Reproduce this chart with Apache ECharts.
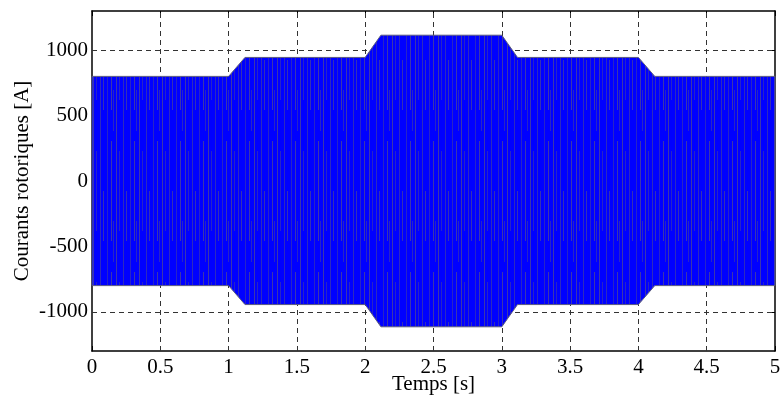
<!DOCTYPE html>
<html>
<head>
<meta charset="utf-8">
<script src="https://cdn.jsdelivr.net/npm/echarts@6/dist/echarts.min.js"></script>
<style>
html,body{margin:0;padding:0;background:#fff;}
#chart{width:781px;height:398px;}
</style>
</head>
<body>
<div id="chart"></div>
<script>
// Envelope of the rotor currents (time in s, peak amplitude in A)
var envTimes = [0, 1, 1.12, 2, 2.115, 3, 3.115, 4, 4.12, 5];
var envAmps  = [800, 800, 945, 945, 1115, 1115, 945, 945, 800, 800];
// Axis ticks
var xTicks = [0, 0.5, 1, 1.5, 2, 2.5, 3, 3.5, 4, 4.5, 5];
var yTicks = [-1000, -500, 0, 500, 1000];

var envData = envTimes.map(function (t, i) { return [t, envAmps[i]]; });

// Fill texture (style only): thin olive/grey vertical streaks over blue
var pat = document.createElement('canvas');
pat.width = 23; pat.height = 131;
(function () {
  var c = pat.getContext('2d');
  c.fillStyle = '#0000ff';
  c.fillRect(0, 0, pat.width, pat.height);
  var streaks = [[1, 0, 131, 0.45], [4, 20, 80, 0.3], [8, 0, 131, 0.35], [11, 60, 50, 0.4],
                 [15, 0, 131, 0.3], [19, 10, 100, 0.45], [21, 90, 41, 0.3]];
  streaks.forEach(function (s) {
    c.fillStyle = 'rgba(130,120,70,' + s[3] + ')';
    c.fillRect(s[0], s[1], 1, s[2]);
  });
})();

var font = 'Liberation Serif';
var chart = echarts.init(document.getElementById('chart'), null, {renderer: 'canvas'});
var axisText = {color: '#000', fontFamily: font, fontSize: 21};

chart.setOption({
  animation: false,
  backgroundColor: '#fff',
  grid: {left: 92, right: 6, top: 11, bottom: 47, containLabel: false, outerBoundsMode: 'none',
         show: false},
  xAxis: [{
    type: 'value', min: 0, max: 5, interval: 0.5, position: 'bottom',
    axisLine: {show: true, onZero: false, lineStyle: {color: '#000', width: 1.5}},
    axisTick: {show: true, inside: true, length: 5, lineStyle: {color: '#000'}},
    axisLabel: Object.assign({margin: 6, formatter: function (v) { return String(v); }}, axisText),
    splitLine: {show: false},
    name: 'Temps [s]', nameLocation: 'middle', nameGap: 23, nameMoveOverlap: false,
    nameTextStyle: {color: '#000', fontFamily: font, fontSize: 21}
  }, {
    type: 'value', min: 0, max: 5, interval: 0.5, position: 'top',
    axisLine: {show: true, onZero: false, lineStyle: {color: '#000', width: 1.5}},
    axisTick: {show: true, inside: true, length: 5, lineStyle: {color: '#000'}},
    axisLabel: {show: false}, splitLine: {show: false}
  }],
  yAxis: [{
    type: 'value', min: -1300, max: 1300, position: 'left',
    axisLine: {show: true, onZero: false, lineStyle: {color: '#000', width: 1.5}},
    axisTick: {show: true, inside: true, length: 5, customValues: yTicks, lineStyle: {color: '#000'}},
    axisLabel: Object.assign({margin: 4, customValues: yTicks, formatter: function (v) { return String(v); }}, axisText),
    splitLine: {show: false},
    name: 'Courants rotoriques [A]', nameLocation: 'middle', nameGap: 59, nameMoveOverlap: false,
    nameTextStyle: {color: '#000', fontFamily: font, fontSize: 21}
  }, {
    type: 'value', min: -1300, max: 1300, position: 'right',
    axisLine: {show: true, onZero: false, lineStyle: {color: '#000', width: 1.5}},
    axisTick: {show: true, inside: true, length: 5, customValues: yTicks, lineStyle: {color: '#000'}},
    axisLabel: {show: false, customValues: yTicks}, splitLine: {show: false}
  }],
  series: [{
    type: 'line', name: 'grid', data: [], silent: true, z: 1,
    markLine: {
      silent: true, symbol: 'none', label: {show: false},
      lineStyle: {color: '#333', type: [5, 4], width: 1},
      data: yTicks.map(function (v) { return {yAxis: v}; })
        .concat(xTicks.slice(1, -1).map(function (v) { return {xAxis: v}; }))
    }
  }, {
    type: 'custom', name: 'Courants rotoriques', data: envData, silent: true, z: 5,
    renderItem: function (params, api) {
      if (params.dataIndex !== 0) return null;
      var upper = [], lower = [];
      for (var i = 0; i < envData.length; i++) {
        upper.push(api.coord([envData[i][0], envData[i][1]]));
        lower.push(api.coord([envData[i][0], -envData[i][1]]));
      }
      var pts = upper.concat(lower.reverse());
      return {
        type: 'group',
        children: [{
          type: 'polygon', shape: {points: pts},
          style: {fill: {image: pat, repeat: 'repeat'}, stroke: '#5a5a80', lineWidth: 1}
        }]
      };
    }
  }]
});
</script>
</body>
</html>
